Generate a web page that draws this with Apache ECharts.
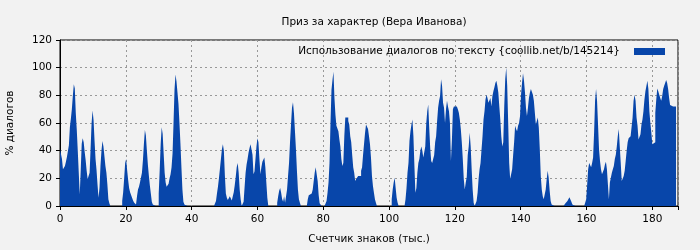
<!DOCTYPE html>
<html>
<head>
<meta charset="utf-8">
<script src="https://cdn.jsdelivr.net/npm/echarts@6/dist/echarts.min.js"></script>
<style>
html,body{margin:0;padding:0;background:#f2f2f2;}
#chart{width:700px;height:250px;}
</style>
</head>
<body>
<div id="chart"></div>
<script>
const chartTitle = 'Приз за характер (Вера Иванова)';
const seriesName = 'Использование диалогов по тексту {coollib.net/b/145214}';
const xAxisName = 'Счетчик знаков (тыс.)';
const yAxisName = '% диалогов';
const xTicks = [0, 20, 40, 60, 80, 100, 120, 140, 160, 180];
const yTicks = [0, 20, 40, 60, 80, 100, 120];
// thousand characters per bar
const step = 0.3;
// share of dialogue (%) for each consecutive bar, starting at 0
const values = [
  41, 41, 34, 26.5, 26.5, 29, 32, 35.5, 35.5, 44,
  57, 63, 70, 79.5, 88, 85, 67, 55, 40, 24,
  8.4, 26, 45, 49, 46, 39, 33, 25.5, 19.5, 19.5,
  24, 41.5, 60, 69, 62, 47, 34, 26, 15.6, 6,
  13, 29, 40, 47, 43, 36, 29, 24, 15.6, 4.8,
  2,
  0, 0, 0, 0, 0, 0, 0, 0, 0, 0, 0, 0,
  3.6, 10, 20, 31, 34, 26, 19, 13, 10, 8,
  6, 4, 2.5, 2, 1, 7, 12, 14, 17, 18,
  24, 33, 45, 55, 51, 40, 30, 22, 15, 9,
  3, 1, 0, 0, 0, 0, 0,
  9, 26, 45, 57, 52, 38, 24, 17, 14, 13,
  16, 20, 23, 28, 38, 60, 84, 95, 90, 82,
  74, 60, 45, 28, 12, 3, 1,
  0, 0, 0, 0, 0, 0, 0, 0, 0, 0, 0, 0, 0, 0, 0, 0,
  0, 0, 0, 0, 0, 0, 0, 0, 0, 0, 0, 0, 0, 0, 0,
  3.6, 9, 14, 20, 27, 34, 41, 44.6, 40, 22,
  9, 6, 4.3, 5, 7, 6, 4, 5, 10, 15,
  21, 28, 31, 24, 12, 4.8, 0, 0, 3, 14,
  24, 30, 34, 38.6, 42, 44.6, 44, 37, 23, 25,
  34, 43, 49, 46, 34, 23, 28, 32, 33, 35,
  28, 17, 6,
  0, 0, 0, 0, 0, 0, 0, 0, 0,
  2.4, 7, 11, 13, 9.6, 5, 3, 7, 2.4, 3.6,
  12, 21.6, 31, 46, 59, 71, 75, 67, 54, 41,
  25.5, 12, 4.8, 2.4, 0, 0, 0, 0, 0, 0,
  0, 4.8, 7.7, 8.4, 9, 9.6, 12, 18, 24, 28,
  27, 18, 8, 2, 1,
  0, 0, 0, 0, 0,
  3.6, 9.6, 17, 31, 60, 84, 91, 97, 78, 66,
  58, 56.6, 54, 48, 43, 34, 29, 31, 50.5, 64,
  64, 64, 61.5, 59, 50.5, 46, 36.6, 28, 24, 18,
  19.5, 20.5, 21.6, 21.6, 21.6, 25.5, 28, 37, 45, 53,
  59, 58.5, 55.6, 50.5, 44.6, 35, 21.6, 14.4, 9.6, 4.8,
  2.4,
  0, 0, 0, 0, 0, 0, 0, 0, 0, 0, 0, 0, 0, 0, 0,
  4.8, 12, 17, 20.5, 13, 6, 2.4,
  0, 0, 0, 0, 0, 0, 0,
  4.8, 13, 24, 31, 47, 54, 59, 62.6, 50.5, 29,
  9.6, 13, 24, 31, 34, 40, 43, 40, 35, 34,
  43, 60, 68.5, 73.4, 56.6, 42, 32.5, 31, 34, 36.6,
  46, 50.5, 61.5, 71, 76, 79.5, 91.6, 87, 74.7, 71,
  60, 70, 76, 72, 68.5, 60, 32.5, 48, 70, 72,
  72, 72, 72, 70, 67.5, 62.6, 55.6, 46, 34, 19.5,
  12, 17, 21, 36.6, 43, 53, 43, 26.5, 12, 2.4,
  0, 0,
  3.6, 9.6, 19.5, 26.5, 31, 41, 50.5, 62.6, 68.5, 77,
  80.5, 78, 74.7, 76, 78, 72, 79.5, 83, 85.6, 89,
  90.5, 87, 82, 72, 62.6, 50.5, 43, 46, 72, 91.6,
  100, 87, 60, 31, 19.5, 20.5, 26.5, 36.6, 46, 58,
  55.6, 54, 58, 60, 65, 80.5, 89, 96, 90.5, 82,
  71, 65, 71, 78, 82, 84.5, 85.6, 80.5, 76, 67.5,
  59, 60, 64, 56.6, 41, 21.6, 12, 7, 4.8, 4.8,
  12, 19.5, 25.5, 20.5, 11, 3.6, 1,
  0, 0, 0, 0, 0, 0, 0, 0, 0, 0, 0, 0, 0,
  2, 3, 3.6, 5, 6.3, 5.5, 3, 1,
  0, 0, 0, 0, 0, 0, 0, 0, 0, 0, 0, 0, 0,
  4.8, 15.6, 26.5, 31, 30, 28, 31, 35, 53, 76,
  84.5, 76, 59, 41, 32.5, 26.5, 23, 24, 26.5, 30,
  32, 26.5, 15.6, 4.8, 17, 18, 24, 26.5, 29, 34,
  37, 43, 50.5, 55.6, 43, 31, 18, 17, 21.6, 25.5,
  32.5, 40, 46, 49, 49, 50.5, 51.8, 64, 76, 80.5,
  76, 64, 58, 48, 48, 51.8, 59, 62.6, 68.5, 77,
  83, 86.8, 90.5, 84.5, 68.5, 60, 53, 44.6, 44.6, 46,
  67.5, 77, 85, 83, 80.5, 78, 76, 79.5, 84.5, 87,
  89, 91, 89, 84.5, 78, 73, 72, 72, 72, 72,
  72,
  0
];
const xMax = 187.8;

const barColor = '#0846aa';
const font = 'DejaVu Sans';
const fs = 10.5;
const data = values.map((v, i) => [+(i * step).toFixed(2), v]);

const chart = echarts.init(document.getElementById('chart'), null, {renderer: 'canvas'});
chart.setOption({
  backgroundColor: '#f2f2f2',
  animation: false,
  title: {
    text: chartTitle,
    left: 369,
    top: 12,
    textAlign: 'center',
    textStyle: {fontFamily: font, fontSize: fs, fontWeight: 'normal', color: '#000'}
  },
  legend: {
    data: [{name: seriesName, icon: 'rect'}],
    right: 30,
    top: 41,
    align: 'right',
    itemWidth: 31,
    itemHeight: 7,
    textStyle: {fontFamily: font, fontSize: fs, color: '#000', padding: [0, 9, 0, 0]}
  },
  grid: {
    left: 60, right: 22, top: 40, bottom: 44,
    outerBoundsMode: 'none',
    containLabel: false,
    show: true, borderColor: '#000', borderWidth: 1, backgroundColor: 'transparent'
  },
  xAxis: {
    type: 'value',
    min: 0, max: xMax, interval: 20,
    name: xAxisName,
    nameLocation: 'middle',
    nameGap: 28,
    nameTextStyle: {fontFamily: font, fontSize: fs, color: '#000'},
    axisLine: {lineStyle: {color: '#000'}},
    axisTick: {show: true, length: 4, lineStyle: {color: '#000'}},
    axisLabel: {
      fontFamily: font, fontSize: fs, color: '#000', margin: 8,
      formatter: v => xTicks.includes(v) ? String(v) : ''
    },
    splitLine: {show: true, lineStyle: {color: '#999', type: [2, 3], width: 1}}
  },
  yAxis: {
    type: 'value',
    min: 0, max: 120, interval: 20,
    name: yAxisName,
    nameLocation: 'middle',
    nameGap: 44,
    nameTextStyle: {fontFamily: font, fontSize: fs, color: '#000'},
    axisLine: {show: true, lineStyle: {color: '#000'}},
    axisTick: {show: true, length: 4, lineStyle: {color: '#000'}},
    axisLabel: {
      fontFamily: font, fontSize: fs, color: '#000', margin: 8,
      formatter: v => yTicks.includes(v) ? String(v) : ''
    },
    splitLine: {show: true, lineStyle: {color: '#999', type: [2, 3], width: 1}}
  },
  series: [{
    name: seriesName,
    type: 'line',
    step: 'end',
    data: data,
    showSymbol: false,
    symbol: 'none',
    sampling: null,
    itemStyle: {color: barColor},
    lineStyle: {width: 0, color: barColor},
    areaStyle: {color: barColor, opacity: 1},
    z: 3
  }]
});
</script>
</body>
</html>
